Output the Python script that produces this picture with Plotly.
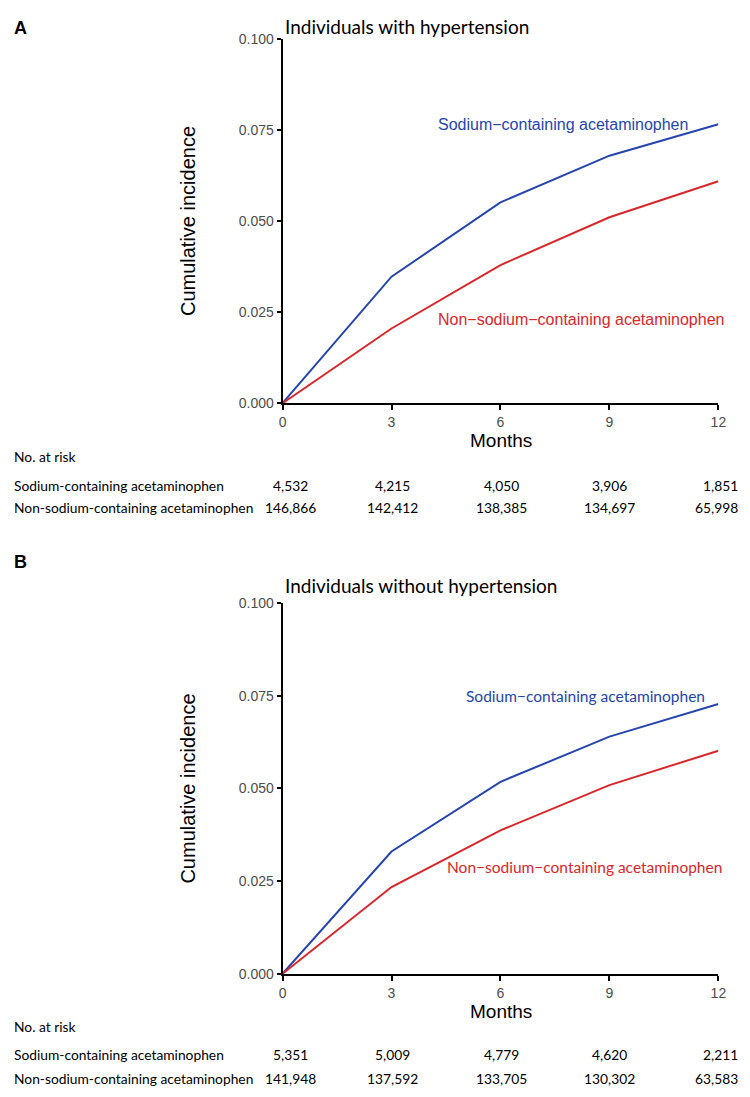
import plotly.graph_objects as go

# ---------------- data ----------------
months = [0, 3, 6, 9, 12]
series_names = ["Sodium\u2212containing acetaminophen", "Non\u2212sodium\u2212containing acetaminophen"]
risk_row_labels = ["Sodium-containing acetaminophen", "Non-sodium-containing acetaminophen"]

a_title = "Individuals with hypertension"
a_sodium = [0.0, 0.0347, 0.0551, 0.0679, 0.0765]
a_non_sodium = [0.0, 0.0205, 0.0379, 0.0510, 0.0609]
a_risk_sodium = ["4,532", "4,215", "4,050", "3,906", "1,851"]
a_risk_non_sodium = ["146,866", "142,412", "138,385", "134,697", "65,998"]

b_title = "Individuals without hypertension"
b_sodium = [0.0, 0.0330, 0.0518, 0.0640, 0.0728]
b_non_sodium = [0.0, 0.0234, 0.0387, 0.0509, 0.0602]
b_risk_sodium = ["5,351", "5,009", "4,779", "4,620", "2,211"]
b_risk_non_sodium = ["141,948", "137,592", "133,705", "130,302", "63,583"]

y_ticks = [0.0, 0.025, 0.05, 0.075, 0.1]
y_ticktext = ["0.000", "0.025", "0.050", "0.075", "0.100"]

# ---------------- style ----------------
PAGE_W, PAGE_H = 750, 1097
OFF = 8                      # default body margin of the html page
W, H = PAGE_W - OFF, PAGE_H - OFF
BLUE = "#2645AD"
RED = "#D7272B"
ARIAL = "Liberation Sans, Arial, sans-serif"
CAL = "Lato, Carlito, Calibri, sans-serif"


def py(p):
    return 1 - (p - OFF) / H


def px(p):
    return max(p - OFF, 0) / W


x_dom = [px(283), px(726)]
panels = [
    dict(ax="", title=a_title, letter="A", sod=a_sodium, non=a_non_sodium,
         rs=a_risk_sodium, rn=a_risk_non_sodium,
         top=31, bottom=401, letter_y=20, title_y=19, months_y=439,
         risk_y=[455, 484, 507],
         lab_font=ARIAL, lab_size=16,
         lab_sod=(7.72, 0.0764), lab_non=(8.21, 0.0231)),
    dict(ax="2", title=b_title, letter="B", sod=b_sodium, non=b_non_sodium,
         rs=b_risk_sodium, rn=b_risk_non_sodium,
         top=604, bottom=980, letter_y=562, title_y=586, months_y=1018,
         risk_y=[1034, 1062, 1086],
         lab_font=CAL, lab_size=15.5,
         lab_sod=(8.34, 0.0750), lab_non=(8.30, 0.0287)),
]

fig = go.Figure()
annotations = []
layout = dict(width=W, height=H, margin=dict(l=0, r=0, t=0, b=0),
              paper_bgcolor="white", plot_bgcolor="white", showlegend=False)

# per-column horizontal nudges of the at-risk numbers (last column right-aligned to the edge)
col_shift = [8, 1, 1, 0, 22]
col_anchor = ["center", "center", "center", "center", "right"]
TABLE_SIZE = 13.8


def note(text, x, y, xref="paper", yref="paper", xanchor="center", **kw):
    d = dict(text=text, x=x, y=y, xref=xref, yref=yref, xanchor=xanchor,
             yanchor="middle", showarrow=False)
    d.update(kw)
    annotations.append(d)


for p in panels:
    xa = "x" + p["ax"]
    ya = "y" + p["ax"]
    for vals, col in ((p["sod"], BLUE), (p["non"], RED)):
        fig.add_trace(go.Scatter(x=months, y=vals, mode="lines", xaxis=xa, yaxis=ya,
                                 line=dict(color=col, width=2), hoverinfo="skip",
                                 cliponaxis=False))
    layout["xaxis" + p["ax"]] = dict(
        domain=x_dom, anchor=ya, range=[0, 12], tickvals=months, ticks="outside",
        ticklen=5, tickwidth=1.5, tickcolor="black", showline=True, linecolor="black",
        linewidth=2, showgrid=False, zeroline=False,
        tickfont=dict(family=ARIAL, size=14, color="#4D4D4D"))
    layout["yaxis" + p["ax"]] = dict(
        domain=[py(p["bottom"]), py(p["top"])], anchor=xa, range=[0, 0.1],
        tickvals=y_ticks, ticktext=y_ticktext, ticks="outside", ticklen=4,
        tickwidth=1.5, tickcolor="black", showline=True, linecolor="black",
        linewidth=2, showgrid=False, zeroline=False,
        tickfont=dict(family=ARIAL, size=14, color="#4D4D4D"))

    # panel letter and title
    note("<b>%s</b>" % p["letter"], px(3), py(p["letter_y"]), xanchor="left",
         font=dict(family=ARIAL, size=18, color="black"))
    note(p["title"], px(283), py(p["title_y"]), xanchor="left",
         font=dict(family=CAL, size=19, color="black"))
    # axis titles
    note("Cumulative incidence", px(187), py((p["top"] + p["bottom"]) / 2),
         textangle=-90, font=dict(family=ARIAL, size=20, color="black"))
    note("Months", px(505), py(p["months_y"]),
         font=dict(family=ARIAL, size=19, color="black"))
    # curve labels
    for (lx, ly), txt, col in ((p["lab_sod"], series_names[0], BLUE),
                               (p["lab_non"], series_names[1], RED)):
        note(txt, lx, ly, xref=xa, yref=ya,
             font=dict(family=p["lab_font"], size=p["lab_size"], color=col))
    # risk table
    note("No. at risk", px(0), py(p["risk_y"][0]), xanchor="left",
         font=dict(family=CAL, size=TABLE_SIZE, color="black"))
    for row, (lab, vals) in enumerate(((risk_row_labels[0], p["rs"]),
                                       (risk_row_labels[1], p["rn"]))):
        yy = py(p["risk_y"][row + 1])
        note(lab, px(0), yy, xanchor="left",
             font=dict(family=CAL, size=TABLE_SIZE, color="black"))
        for i, (m, v) in enumerate(zip(months, vals)):
            note(v, m, yy, xref=xa, xanchor=col_anchor[i], xshift=col_shift[i],
                 font=dict(family=CAL, size=TABLE_SIZE, color="black"))

layout["annotations"] = annotations
fig.update_layout(**layout)
fig.write_html("out.html")
